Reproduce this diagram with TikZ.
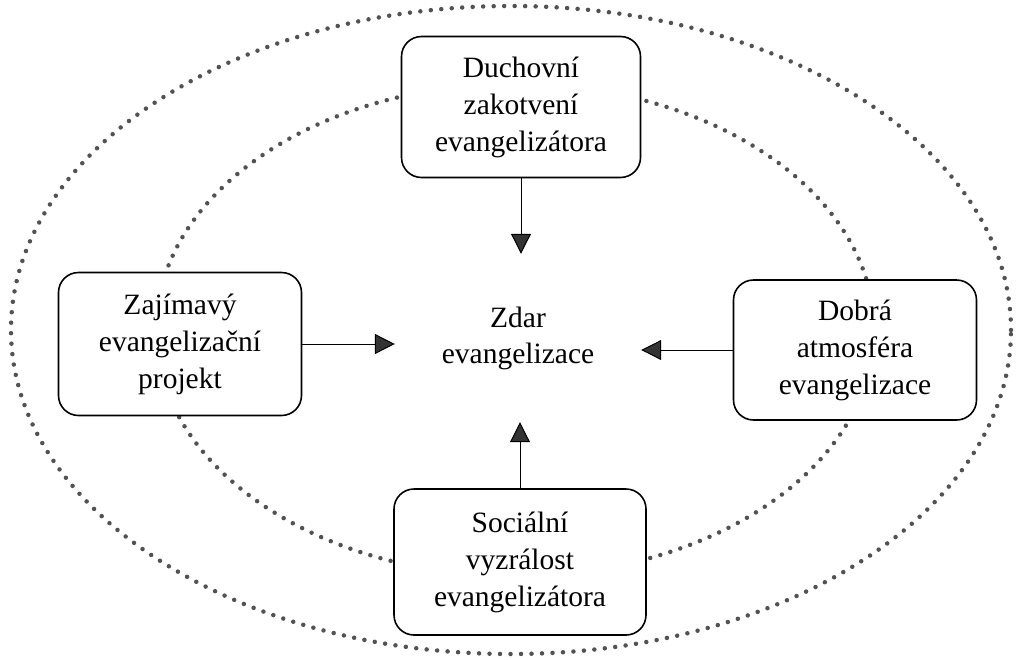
\documentclass[tikz,border=0pt]{standalone}
\usepackage{fontspec}
\setmainfont{Liberation Serif}
\usetikzlibrary{arrows.meta}
\begin{document}
\begin{tikzpicture}[x=1pt,y=-1pt,
  box/.style={draw, line width=1.6pt, rounded corners=20pt, fill=white, align=center,
    inner sep=0pt, font=\fontsize{29.5}{37}\selectfont},
  ring/.style={draw=black!68, line width=4.5pt, line cap=round, dash pattern=on 0pt off 10.5pt},
  arr/.style={line width=1pt, -{Triangle[length=20pt,width=20pt,fill=black!80]}}]
\useasboundingbox (0,0) rectangle (1017,659);
\draw[ring] (511,330) ellipse [x radius=500pt, y radius=324pt];
\draw[ring] (515,330) ellipse [x radius=359pt, y radius=246pt];
\node[box, minimum width=239pt, minimum height=141pt] (duch) at (521,107) {Duchovní\\zakotvení\\evangelizátora};
\node[box, minimum width=243pt, minimum height=143pt] (zaj) at (180,344) {Zajímavý\\evangelizační\\projekt};
\node[box, minimum width=243pt, minimum height=140pt] (dob) at (855,350) {Dobrá\\atmosféra\\evangelizace};
\node[box, minimum width=252pt, minimum height=146pt] (soc) at (520,562) {Sociální\\vyzrálost\\evangelizátora};
\node[align=center, inner sep=0pt, minimum width=246pt, minimum height=168pt,
  font=\fontsize{29.5}{36}\selectfont] (zdar) at (518,338) {Zdar\\evangelizace};
\draw[arr] (duch.south) -- (duch.south |- zdar.north);
\draw[arr] (soc.north) -- (soc.north |- zdar.south);
\draw[arr] (zaj.east) -- (zaj.east -| zdar.west);
\draw[arr] (dob.west) -- (dob.west -| zdar.east);
\end{tikzpicture}
\end{document}
